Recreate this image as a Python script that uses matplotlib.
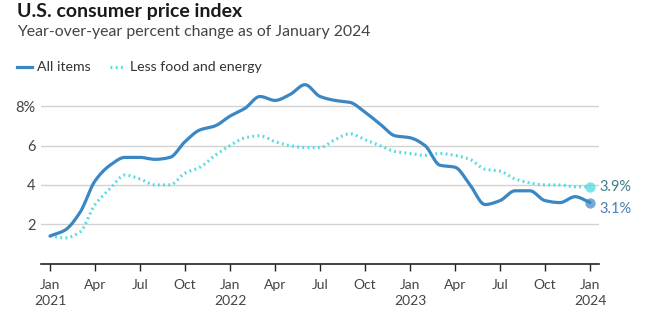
import numpy as np
import matplotlib
matplotlib.use('Agg')
import matplotlib.pyplot as plt
from matplotlib.lines import Line2D

plt.rcParams['font.family'] = ['Lato', 'DejaVu Sans']

# monthly year-over-year change, Jan 2021 .. Jan 2024
months = np.arange(37)
allItems = [1.4, 1.7, 2.6, 4.2, 5.0, 5.4, 5.4, 5.3, 5.4, 6.2, 6.8, 7.0,
            7.5, 7.9, 8.5, 8.3, 8.6, 9.1, 8.5, 8.3, 8.2, 7.7, 7.1, 6.5,
            6.4, 6.0, 5.0, 4.9, 4.0, 3.0, 3.2, 3.7, 3.7, 3.2, 3.1, 3.4,
            3.1]
coreItems = [1.4, 1.3, 1.6, 3.0, 3.8, 4.5, 4.3, 4.0, 4.0, 4.6, 4.9, 5.5,
             6.0, 6.4, 6.5, 6.2, 6.0, 5.9, 5.9, 6.3, 6.6, 6.3, 6.0, 5.7,
             5.6, 5.5, 5.6, 5.5, 5.3, 4.8, 4.7, 4.3, 4.1, 4.0, 4.0, 3.9,
             3.9]
tickMonths = list(range(0, 37, 3))
tickLabels = ['Jan\n2021', 'Apr', 'Jul', 'Oct', 'Jan\n2022', 'Apr', 'Jul', 'Oct',
              'Jan\n2023', 'Apr', 'Jul', 'Oct', 'Jan\n2024']
yTicks = [2, 4, 6, 8]
yTickLabels = ['2', '4', '6', '8%']


def monotoneCurve(x, y, n=12):
    # Fritsch-Carlson monotone cubic, like d3 curveMonotoneX
    x = np.asarray(x, float)
    y = np.asarray(y, float)
    h = np.diff(x)
    s = np.diff(y) / h
    m = np.zeros_like(y)
    m[0], m[-1] = s[0], s[-1]
    for i in range(1, len(y) - 1):
        if s[i - 1] * s[i] <= 0:
            m[i] = 0
        else:
            m[i] = 3 * (h[i - 1] + h[i]) / ((2 * h[i] + h[i - 1]) / s[i - 1] + (h[i] + 2 * h[i - 1]) / s[i])
    xs, ys = [], []
    for i in range(len(x) - 1):
        t = np.linspace(0, 1, n, endpoint=False)
        h00 = 2 * t**3 - 3 * t**2 + 1
        h10 = t**3 - 2 * t**2 + t
        h01 = -2 * t**3 + 3 * t**2
        h11 = t**3 - t**2
        xs.append(x[i] + t * h[i])
        ys.append(h00 * y[i] + h10 * h[i] * m[i] + h01 * y[i + 1] + h11 * h[i] * m[i + 1])
    xs.append([x[-1]])
    ys.append([y[-1]])
    return np.concatenate(xs), np.concatenate(ys)


blue = '#3a87c4'
cyan = '#4fdce0'
dotted = (0, (0.6, 1.1))

fig = plt.figure(figsize=(6.5, 3.31), dpi=100)
ax = fig.add_axes([41 / 650, 1 - 263.5 / 331, 558 / 650, 9.5 * 19.65 / 331])

cx, cy = monotoneCurve(months, coreItems)
ax.plot(cx, cy, color=cyan, lw=2.2, ls=dotted, dash_capstyle='butt', zorder=3)
ax.scatter([months[-1]], [coreItems[-1]], s=55, color=cyan, alpha=0.75, lw=0, zorder=4)

bx, by = monotoneCurve(months, allItems)
ax.plot(bx, by, color=blue, lw=2.3, solid_capstyle='round', zorder=5)
ax.scatter([months[-1]], [allItems[-1]], s=55, color=blue, alpha=0.7, lw=0, zorder=6)

ax.text(months[-1] + 0.65, coreItems[-1], f'{coreItems[-1]}%', color='#3f7f86',
        fontsize=10.5, va='center', ha='left')
ax.text(months[-1] + 0.65, allItems[-1] - 0.35, f'{allItems[-1]}%', color='#4a7fae',
        fontsize=10.5, va='center', ha='left')

ax.set_xlim(-0.6, 36.6)
ax.set_ylim(0, 9.5)
for yv in yTicks:
    ax.axhline(yv, color='#d2d2d2', lw=1, zorder=1)
ax.set_yticks(yTicks)
ax.set_yticklabels(yTickLabels)
ax.set_xticks(tickMonths)
ax.set_xticklabels(tickLabels, linespacing=1.45)
ax.tick_params(axis='y', length=0, pad=4, labelsize=10.5, labelcolor='#444444')
ax.tick_params(axis='x', length=5, width=1, color='#222222', pad=6,
               labelsize=10, labelcolor='#444444')
for side in ['top', 'right', 'left']:
    ax.spines[side].set_visible(False)
ax.spines['bottom'].set_color('#222222')
ax.spines['bottom'].set_linewidth(1.2)

fig.text(17 / 650, 1 - 11 / 331, 'U.S. consumer price index', fontsize=14, fontweight='bold',
         color='#1a1a1a', va='center', ha='left')
fig.text(17 / 650, 1 - 32 / 331, 'Year-over-year percent change as of January 2024', fontsize=11.4,
         color='#444444', va='center', ha='left')

# legend drawn by hand in figure pixels
legY = 1 - 67 / 331
fig.add_artist(Line2D([17 / 650, 32 / 650], [legY, legY], color=blue, lw=2.3,
                      transform=fig.transFigure))
fig.text(37 / 650, legY, 'All items', fontsize=10.2, color='#333333', va='center', ha='left')
fig.add_artist(Line2D([110 / 650, 123 / 650], [legY, legY], color=cyan, lw=2.2, ls=dotted,
                      dash_capstyle='butt', transform=fig.transFigure))
fig.text(130 / 650, legY, 'Less food and energy', fontsize=10.2, color='#333333',
         va='center', ha='left')

fig.savefig('out.png', dpi=100)
